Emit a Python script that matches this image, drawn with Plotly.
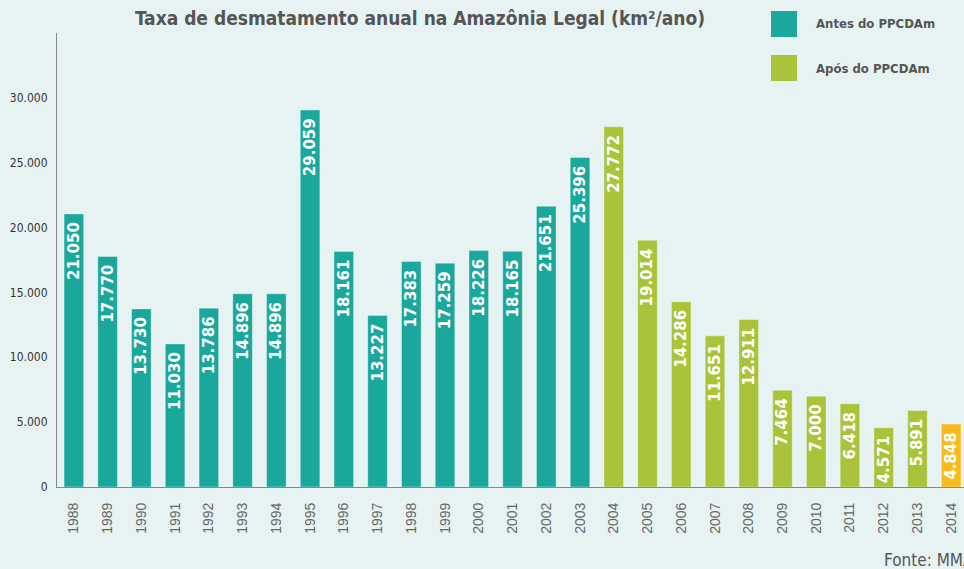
import plotly.graph_objects as go

years = [str(y) for y in range(1988, 2015)]
values = [21050, 17770, 13730, 11030, 13786, 14896, 14896, 29059, 18161, 13227,
          17383, 17259, 18226, 18165, 21651, 25396, 27772, 19014, 14286, 11651,
          12911, 7464, 7000, 6418, 4571, 5891, 4848]
groups = ["antes"] * 16 + ["apos"] * 10 + ["2014"]
legend_labels = ["Antes do PPCDAm", "Após do PPCDAm"]
yticks = [0, 5000, 10000, 15000, 20000, 25000, 30000]

TEAL = "#1BA89C"
GREEN = "#A9C43A"
ORANGE = "#F8BA1C"
color_map = {"antes": TEAL, "apos": GREEN, "2014": ORANGE}
colors = [color_map[g] for g in groups]

W, H = 964, 569
L, R, T, B = 57, 0, 33, 82
plot_w = W - L - R
plot_h = H - T - B

def px_x(px):
    return (px - L) / plot_w

def px_y(py):
    return (H - B - py) / plot_h

NARROW = "DejaVu Sans Condensed, Liberation Sans Narrow, Liberation Sans, sans-serif"

fig = go.Figure()
fig.add_trace(go.Bar(
    x=years, y=values,
    marker=dict(color=colors, line=dict(color="rgba(255,255,255,0.35)", width=1)),
    texttemplate="%{y:,.0f}&nbsp;",
    textposition="inside",
    insidetextanchor="end",
    textangle=-90,
    textfont=dict(family="DejaVu Sans, sans-serif", size=15, color="white", weight="bold"),
    showlegend=False,
    hoverinfo="skip",
))

fig.update_layout(
    width=W, height=H,
    margin=dict(l=L, r=R, t=T, b=B, autoexpand=False),
    paper_bgcolor="#E7F3F3",
    plot_bgcolor="#E7F3F3",
    separators=",.",
    bargap=0.42,
    uniformtext=dict(minsize=15, mode="show"),
    title=dict(
        text="Taxa de desmatamento anual na Amazônia Legal (km²/ano)",
        x=420 / W, xanchor="center", xref="container",
        y=1 - 18 / H, yanchor="middle", yref="container",
        font=dict(family=NARROW, size=19, color="#555555", weight="bold"),
    ),
    xaxis=dict(
        type="category",
        range=[-0.5, 26.38],
        showline=True, linecolor="#888888", linewidth=1,
        ticks="", tickangle=-90,
        tickfont=dict(family="Liberation Sans, Arial, sans-serif", size=14, color="#666666"),
        ticklabelstandoff=9,
        showgrid=False, zeroline=False,
    ),
    yaxis=dict(
        range=[0, 35000],
        tickvals=yticks,
        tickformat=",.0f",
        showline=True, linecolor="#888888", linewidth=1,
        ticks="", ticklabelstandoff=6,
        tickfont=dict(family=NARROW, size=12, color="#333333"),
        showgrid=False, zeroline=False,
    ),
)

legend_colors = [TEAL, GREEN]
legend_tops = [11, 55]
for lab, col, top in zip(legend_labels, legend_colors, legend_tops):
    fig.add_shape(type="rect", xref="paper", yref="paper",
                  x0=px_x(771), x1=px_x(797), y0=px_y(top + 26), y1=px_y(top),
                  fillcolor=col, line=dict(width=0), layer="above")
    fig.add_annotation(text=lab, xref="paper", yref="paper",
                       x=px_x(814), y=px_y(top + 13), xanchor="left", yanchor="middle",
                       showarrow=False,
                       font=dict(family=NARROW, size=13, color="#555555", weight="bold"))

fig.add_annotation(text="Fonte: MMA", xref="paper", yref="paper",
                   x=px_x(882), y=px_y(560), xanchor="left", yanchor="middle",
                   showarrow=False,
                   font=dict(family=NARROW, size=17, color="#555555"))

fig.write_html("out.html", config={"displayModeBar": False})

with open("out.html", encoding="utf-8") as f:
    html = f.read()
html = html.replace("<head>", "<head><style>html,body{margin:0;padding:0;overflow:hidden;}</style>", 1)
with open("out.html", "w", encoding="utf-8") as f:
    f.write(html)
